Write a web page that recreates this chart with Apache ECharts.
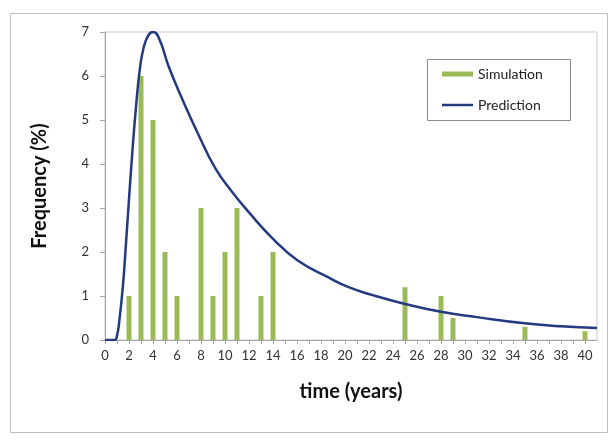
<!DOCTYPE html>
<html>
<head>
<meta charset="utf-8">
<script src="https://cdn.jsdelivr.net/npm/echarts@6/dist/echarts.min.js"></script>
<style>html,body{margin:0;padding:0;background:#fff;}#c{width:614px;height:440px;}</style>
</head>
<body>
<div id="c"></div>
<script>
// Simulation bars (time in years, frequency %)
const simYears = [2, 3, 4, 5, 6, 8, 9, 10, 11, 13, 14, 25, 28, 29, 35, 40];
const simValues = [1, 6, 5, 2, 1, 3, 1, 2, 3, 1, 2, 1.2, 1.0, 0.5, 0.3, 0.2];
// Prediction curve
const predYears = [0, 0.8, 1.0, 1.2, 1.5, 1.75, 2.0, 2.3, 2.6, 2.9, 3.2, 3.6, 4.0, 4.5, 5.3, 6.4, 7.8, 9.2, 10.5, 12, 14, 16, 18.7, 20.3, 22.3, 25, 28, 31, 35, 38, 41];
const predValues = [0, 0, 0.1, 0.45, 1.25, 2.2, 3.2, 4.35, 5.35, 6.15, 6.62, 6.92, 7.0, 6.86, 6.22, 5.5, 4.66, 3.9, 3.4, 2.9, 2.3, 1.82, 1.41, 1.2, 1.02, 0.82, 0.64, 0.52, 0.38, 0.31, 0.27];
const xTitle = 'time (years)';
const yTitle = 'Frequency (%)';

const chart = echarts.init(document.getElementById('c'), null, {renderer: 'canvas'});
const font = 'Lato, "Open Sans", sans-serif';
const legendText = {fontFamily: font, fontSize: 14, color: '#222'};
chart.setOption({
  animation: false,
  backgroundColor: '#fff',
  graphic: [
    {type: 'rect', shape: {x: 10.5, y: 13.5, width: 597, height: 419},
     style: {fill: 'none', stroke: '#BFBFBF', lineWidth: 1}, silent: true, z: -1},
    {type: 'rect', shape: {x: 427.5, y: 59.5, width: 143, height: 61},
     style: {fill: '#fff', stroke: '#8C8C8C', lineWidth: 1}, silent: true, z: 5}
  ],
  grid: {left: 105, right: 17, top: 32, bottom: 100, show: true, borderColor: '#C8C8C8', borderWidth: 1},
  legend: [
    {left: 442, top: 67, padding: 0, itemWidth: 31, itemHeight: 5, itemGap: 4, z: 10,
     textStyle: legendText, data: [{name: 'Simulation', icon: 'rect'}]},
    {left: 442, top: 98, padding: 0, itemWidth: 31, itemHeight: 2.5, itemGap: 4, z: 10,
     textStyle: legendText, data: [{name: 'Prediction', icon: 'rect'}]}
  ],
  xAxis: {
    type: 'value', min: 0, max: 41, interval: 1,
    name: xTitle, nameLocation: 'middle', nameGap: 42,
    nameTextStyle: {fontFamily: font, fontSize: 20, fontWeight: 'bold', color: '#111'},
    splitLine: {show: false},
    axisLine: {lineStyle: {color: '#A6A6A6'}},
    axisTick: {show: true, length: 4, lineStyle: {color: '#A6A6A6'}},
    axisLabel: {
      fontFamily: font, fontSize: 13, color: '#333', margin: 9, showMaxLabel: false,
      formatter: v => (v % 2 === 0 && v <= 40) ? String(v) : ''
    }
  },
  yAxis: {
    type: 'value', min: 0, max: 7, interval: 1,
    name: yTitle, nameLocation: 'middle', nameGap: 55,
    nameTextStyle: {fontFamily: font, fontSize: 20, fontWeight: 'bold', color: '#111'},
    splitLine: {show: false},
    axisLine: {show: true, lineStyle: {color: '#A6A6A6'}},
    axisTick: {show: true, length: 5, lineStyle: {color: '#A6A6A6'}},
    axisLabel: {fontFamily: font, fontSize: 13, color: '#333', margin: 16}
  },
  series: [
    {
      name: 'Simulation', type: 'bar', barWidth: 5,
      itemStyle: {color: '#9BBB59'},
      data: simYears.map((x, i) => [x, simValues[i]]),
      z: 2
    },
    {
      name: 'Prediction', type: 'line', symbol: 'none', showSymbol: false,
      smooth: 0.5,
      lineStyle: {color: '#243A80', width: 2.5},
      itemStyle: {color: '#243A80'},
      data: predYears.map((x, i) => [x, predValues[i]]),
      z: 3
    }
  ]
});
</script>
</body>
</html>
